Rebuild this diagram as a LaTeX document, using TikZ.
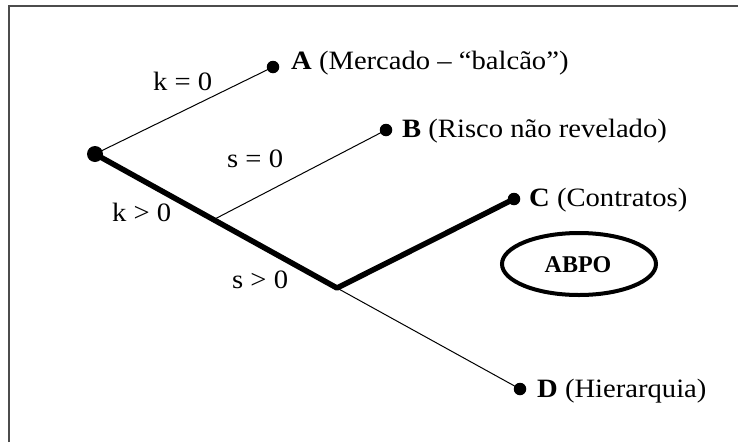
\documentclass[tikz,border=0pt]{standalone}
\usepackage{fontspec}
\setmainfont{Liberation Serif}[FakeStretch=1.08]
\newfontfamily\abpofont{Liberation Serif}
\usetikzlibrary{calc,shapes.geometric}
\begin{document}
\begin{tikzpicture}[x=1pt,y=-1pt,
  thinline/.style={line width=1pt},
  thickline/.style={line width=5.5pt},
  enddot/.style={circle,fill=black,inner sep=0pt,minimum size=12.5pt},
  rootdot/.style={circle,fill=black,inner sep=0pt,minimum size=16pt},
  lbl/.style={inner sep=0pt,anchor=base west,font=\fontsize{26.5}{31}\selectfont},
  frameline/.style={line width=2pt,draw=black!70}]
\useasboundingbox (0,0) rectangle (738,442);
\fill[white] (0,0) rectangle (738,442);
\draw[frameline] (8.5,442) -- (8.5,6) -- (738,6);

\node[rootdot] (root) at (95,154) {};
\node[enddot] (A) at (273,67) {};
\node[enddot] (B) at (386,130) {};
\node[enddot] (C) at (514,199) {};
\node[enddot] (D) at (520,389) {};
\coordinate (P) at (337,288);
\coordinate (Q) at ($(root)!0.49!(P)$);

\draw[thinline] (root.center) -- (A.center);
\draw[thinline] (Q) -- (B.center);
\draw[thinline] (P) -- (D.center);
\draw[thickline,line join=round] (root.center) -- (P) -- (C.center);

\node[lbl] (tA) at (291,69) {\textbf{A} (Mercado – “balcão”)};
\node[lbl] (tB) at (402,137) {\textbf{B} (Risco não revelado)};
\node[lbl] (tC) at (529,206) {\textbf{C} (Contratos)};
\node[lbl] (tD) at (537,397) {\textbf{D} (Hierarquia)};

\node[lbl] (k0) at (153,90) {k = 0};
\node[lbl] (s0) at (227,167) {s = 0};
\node[lbl] (kg) at (112,221) {k > 0};
\node[lbl] (sg) at (232,288) {s > 0};

\node[ellipse,draw,line width=4pt,minimum width=154pt,minimum height=62pt,inner sep=0pt] (abpo) at (579,264) {};
\node[inner sep=0pt,font=\abpofont\bfseries\fontsize{24}{28}\selectfont] (abpot) at (578,265) {ABPO};
\end{tikzpicture}
\end{document}
